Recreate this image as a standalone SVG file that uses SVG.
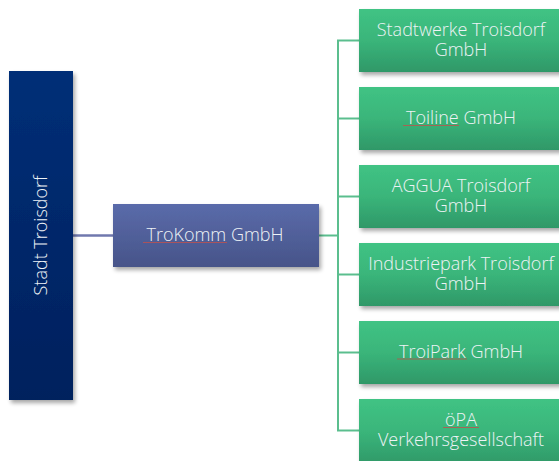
<svg xmlns="http://www.w3.org/2000/svg" width="559" height="461" viewBox="0 0 559 461">
<style>
  .lbl { font-family: "Open Sans", "Liberation Sans", sans-serif; font-size: 18px; font-weight: 300; fill: #EEF3F6; text-anchor: middle; }
  .green { fill: url(#gGreen); filter: url(#sh); }
  .conn { stroke: #5BBE8E; stroke-width: 2; fill: none; }
  .spell { stroke: #C0504D; stroke-width: 0.8; fill: none; }
</style>
<defs>
  <linearGradient id="gGreen" x1="0" y1="0" x2="0" y2="1">
    <stop offset="0" stop-color="#40C384"/>
    <stop offset="0.5" stop-color="#3AB57A"/>
    <stop offset="1" stop-color="#2F9868"/>
  </linearGradient>
  <linearGradient id="gBlue" x1="0" y1="0" x2="0" y2="1">
    <stop offset="0" stop-color="#022F77"/>
    <stop offset="1" stop-color="#00205D"/>
  </linearGradient>
  <linearGradient id="gMid" x1="0" y1="0" x2="0" y2="1">
    <stop offset="0" stop-color="#5A6BAA"/>
    <stop offset="1" stop-color="#475489"/>
  </linearGradient>
  <filter id="sh" x="-10%" y="-10%" width="125%" height="135%">
    <feGaussianBlur in="SourceAlpha" stdDeviation="2.2"/>
    <feOffset dx="2" dy="3" result="b"/>
    <feComponentTransfer><feFuncA type="linear" slope="0.35"/></feComponentTransfer>
    <feMerge><feMergeNode/><feMergeNode in="SourceGraphic"/></feMerge>
  </filter>
</defs>
<rect width="559" height="461" fill="#FFFFFF"/>

<g id="connectors">
  <line x1="73" y1="235.5" x2="113" y2="235.5" stroke="#7078AE" stroke-width="2.5"/>
  <line x1="319" y1="235.5" x2="338" y2="235.5" class="conn"/>
  <line x1="338" y1="40.5" x2="338" y2="430.5" class="conn"/>
  <line x1="337" y1="40.5" x2="359" y2="40.5" class="conn"/>
  <line x1="337" y1="118.5" x2="359" y2="118.5" class="conn"/>
  <line x1="337" y1="196.5" x2="359" y2="196.5" class="conn"/>
  <line x1="337" y1="274.5" x2="359" y2="274.5" class="conn"/>
  <line x1="337" y1="352.5" x2="359" y2="352.5" class="conn"/>
  <line x1="337" y1="430.5" x2="359" y2="430.5" class="conn"/>
</g>

<g id="stadt">
  <rect x="9" y="71" width="64" height="329" fill="url(#gBlue)" filter="url(#sh)"/>
  <text class="lbl" transform="translate(47,235.5) rotate(-90)" x="0" y="0">Stadt Troisdorf</text>
</g>

<g id="trokomm">
  <rect x="113" y="204" width="206" height="63" fill="url(#gMid)" filter="url(#sh)"/>
  <text class="lbl" x="215" y="240.5">TroKomm GmbH</text>
  <path class="spell" d="M143 242.5 H227"/>
</g>

<g id="stadtwerke">
  <rect class="green" x="359" y="9" width="203" height="63"/>
  <text class="lbl" x="461" y="36">Stadtwerke Troisdorf</text>
  <text class="lbl" x="461" y="56">GmbH</text>
</g>

<g id="toiline">
  <rect class="green" x="359" y="87" width="203" height="63"/>
  <text class="lbl" x="461" y="124">Toiline GmbH</text>
  <path class="spell" d="M403 125.5 H459"/>
</g>

<g id="aggua">
  <rect class="green" x="359" y="165" width="203" height="63"/>
  <text class="lbl" x="461" y="192">AGGUA Troisdorf</text>
  <text class="lbl" x="461" y="212">GmbH</text>
</g>

<g id="industriepark">
  <rect class="green" x="359" y="243" width="203" height="63"/>
  <text class="lbl" x="461" y="270">Industriepark Troisdorf</text>
  <text class="lbl" x="461" y="290">GmbH</text>
</g>

<g id="troipark">
  <rect class="green" x="359" y="321" width="203" height="63"/>
  <text class="lbl" x="461" y="357.5">TroiPark GmbH</text>
  <path class="spell" d="M397 359 H467"/>
</g>

<g id="oepa">
  <rect class="green" x="359" y="399" width="203" height="66"/>
  <text class="lbl" x="461" y="426">öPA</text>
  <text class="lbl" x="461" y="446">Verkehrsgesellschaft</text>
  <path class="spell" d="M443 427.5 H479"/>
</g>
</svg>
